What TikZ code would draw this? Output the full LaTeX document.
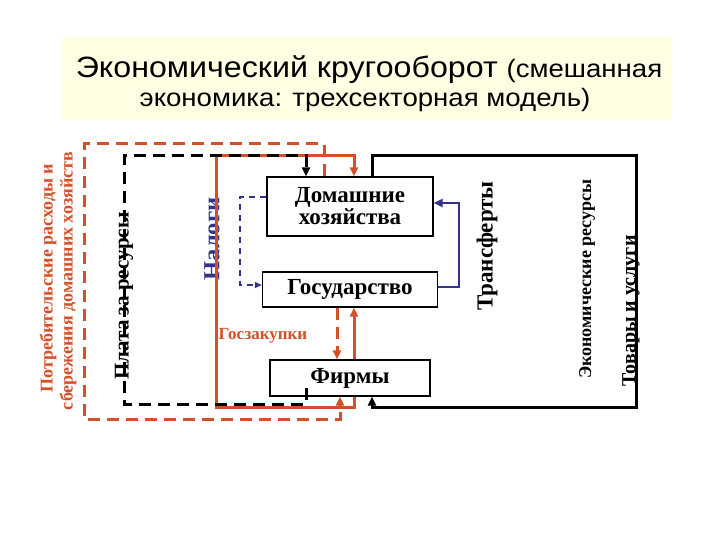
\documentclass[tikz,border=0pt]{standalone}
\usepackage{fontspec}
\setmainfont{Liberation Serif}
\newfontfamily\titlefont{Liberation Sans}
\usetikzlibrary{arrows.meta}
\definecolor{redc}{RGB}{212,80,40}
\definecolor{bluec}{RGB}{51,51,140}
\definecolor{titlebg}{RGB}{255,255,228}
\tikzset{
  box/.style={draw=black, line width=1.4pt, fill=white, inner sep=0pt, font=\bfseries\fontsize{23}{25}\selectfont, align=center},
  tip/.style={-{Triangle[length=9pt,width=8pt]}},
  blk/.style={line width=3pt, black, tip},
  blkdash/.style={line width=3pt, black, dash pattern=on 12pt off 7pt, tip},
  redsolid/.style={line width=3pt, redc, tip},
  reddash/.style={line width=3pt, redc, dash pattern=on 12pt off 7pt, tip},
  bluesolid/.style={line width=2.6pt, bluec, tip},
  bluedash/.style={line width=1.6pt, bluec, dash pattern=on 6pt off 5pt, -{Triangle[length=7pt,width=6pt]}},
  vlabel/.style={rotate=90, inner sep=0pt, font=\bfseries},
}
\begin{document}
\begin{tikzpicture}[x=1pt,y=-1pt]
\useasboundingbox (0,0) rectangle (720,540);
\fill[white] (0,0) rectangle (720,540);
% title
\node[fill=titlebg, minimum width=610pt, minimum height=83pt, inner sep=0pt] (titlebox) at (367,78.5) {};
\node[anchor=base, inner sep=0pt] (title1) at (369,78) {\titlefont\scalebox{1.15}[1.05]{\fontsize{28}{32}\selectfont Экономический кругооборот \fontsize{24}{28}\selectfont(смешанная}};
\node[anchor=base, inner sep=0pt] (title2) at (365,107) {\titlefont\scalebox{1.15}[1.05]{\fontsize{24}{28}\selectfont экономика: трехсекторная модель)}};
% labels
\node[vlabel, bluec, font=\bfseries\fontsize{23}{25}\selectfont] (nalogi) at (212,239) {\scalebox{1.07}[1]{Налоги}};
\node[vlabel, font=\bfseries\fontsize{21}{23}\selectfont] (plata) at (124,296) {Плата за ресурсы};
\node[vlabel, font=\bfseries\fontsize{23}{25}\selectfont] (transf) at (487,246) {Трансферты};
\node[vlabel, font=\bfseries\fontsize{18}{20}\selectfont] (ekres) at (587,279) {Экономические ресурсы};
\node[vlabel, font=\bfseries\fontsize{20}{22}\selectfont] (tovary) at (631,311) {Товары и услуги};
\node[vlabel, redc, font=\bfseries\fontsize{18}{20}\selectfont] (potr1) at (48,278) {Потребительские расходы и};
\node[vlabel, redc, font=\bfseries\fontsize{18}{20}\selectfont] (potr2) at (68,281) {сбережения домашних хозяйств};
\node[inner sep=0pt, redc, font=\bfseries\fontsize{17}{19}\selectfont] (goszak) at (263,336) {Госзакупки};
% boxes
\node[box, minimum width=166pt, minimum height=59pt] (hh) at (350,206.5) {Домашние\\[-3pt]хозяйства};
\node[box, minimum width=175pt, minimum height=35pt] (gov) at (350,289.5) {Государство};
\node[box, minimum width=160pt, minimum height=36pt] (firms) at (350,378) {Фирмы};
% connectors
\draw[redsolid] ([xshift=4pt]firms.south) -- (354,407) -- (216,407) -- (216,156) -| ([xshift=4pt]hh.north);
\draw[reddash] ([xshift=-26pt]hh.north) |- (84,144) -- (84,419) -| ([xshift=-10pt]firms.south);
\draw[blkdash] ([xshift=-44pt,yshift=9pt]firms.south) -- (306,404) -- (124,404) -- (124,156) -| ([xshift=-44pt]hh.north);
\draw[blk] ([xshift=22pt]hh.north) |- (636,156) -- (636,407) -| ([xshift=22pt]firms.south);
\draw[reddash] ([xshift=-13pt]gov.south) -- ([xshift=-13pt]firms.north);
\draw[redsolid] ([xshift=4pt]firms.north) -- ([xshift=4pt]gov.south);
\draw[bluedash] ([yshift=9.5pt]hh.west) -| (240,285) -- ([yshift=4.5pt]gov.west);
\draw[bluesolid] ([yshift=2.5pt]gov.east) -| (459,203) -- ([yshift=3.5pt]hh.east);
\end{tikzpicture}
\end{document}
